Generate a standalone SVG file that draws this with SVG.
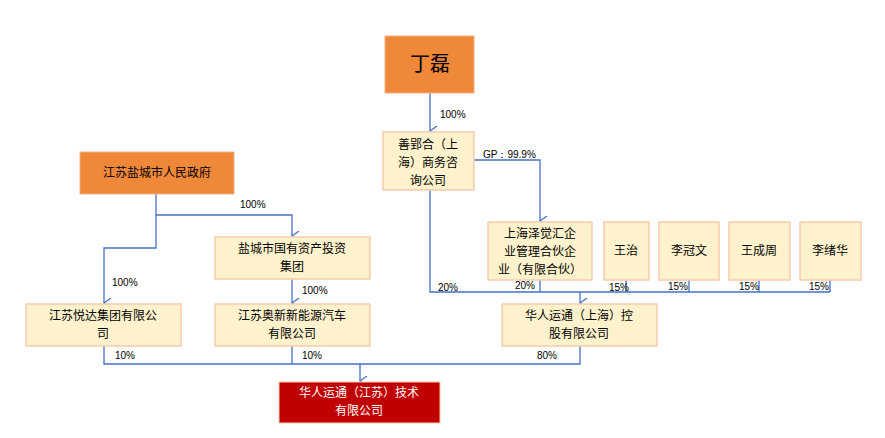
<svg xmlns="http://www.w3.org/2000/svg" width="885" height="438" viewBox="0 0 885 438">
<style>
text{font-family:"Noto Sans CJK SC","Liberation Sans",sans-serif;text-anchor:middle;fill:#000}
.o{fill:#F0883A;stroke:#F4B183;stroke-width:1}
.y{fill:#FFF2CC;stroke:#F8CBAD;stroke-width:1.5}
.r{fill:#C00000;stroke:#F8CBAD}
.t{font-size:12px}
.l{font-size:10px;font-family:"Liberation Sans",sans-serif;text-anchor:start}
.c path{fill:none;stroke:#4472C4;stroke-width:1.3}
</style>
<defs><marker id="a" viewBox="0 0 10 10" refX="5" refY="9" markerWidth="10" markerHeight="10" orient="auto-start-reverse" markerUnits="userSpaceOnUse"><path d="M0,2 L5,9 L10,2" fill="none" stroke="#4472C4" stroke-width="1.3"/></marker></defs>
<rect width="885" height="438" fill="#fff"/>
<g class="c">
<path d="M430,93 V131" marker-end="url(#a)"/>
<path d="M474,160 H540 V221" marker-end="url(#a)"/>
<path d="M430,190 V292 H830 M540,280 V292 M626,280 V292 M689,280 V292 M759,280 V292 M830,280 V292"/>
<path d="M580,292 V303" marker-end="url(#a)"/>
<path d="M156,194 V215 H292 V236" marker-end="url(#a)"/>
<path d="M156,215 V248 H104 V303" marker-end="url(#a)"/>
<path d="M292,279 V303" marker-end="url(#a)"/>
<path d="M104,346 V364 H580 V346 M292,346 V364"/>
<path d="M360,364 V381" marker-end="url(#a)"/>
</g>
<g class="l-group">
<text class="l" x="440" y="118">100%</text>
<text class="l" x="483" y="158">GP：99.9%</text>
<text class="l" x="438" y="291">20%</text>
<text class="l" x="515" y="289">20%</text>
<text class="l" x="609" y="291">15%</text>
<text class="l" x="668" y="290">15%</text>
<text class="l" x="739" y="290">15%</text>
<text class="l" x="809" y="290">15%</text>
<text class="l" x="240" y="208">100%</text>
<text class="l" x="112" y="286">100%</text>
<text class="l" x="302" y="294">100%</text>
<text class="l" x="115" y="359">10%</text>
<text class="l" x="302" y="359">10%</text>
<text class="l" x="537" y="359">80%</text>
</g>
<g id="dinglei"><rect class="o" x="385" y="36" width="89" height="57"/><text x="430" y="71" font-size="20">丁磊</text></g>
<g id="shanying"><rect class="y" x="383" y="132" width="91" height="58"/><text class="t" x="428" y="149">善郢合（上</text><text class="t" x="428" y="167">海）商务咨</text><text class="t" x="428" y="185">询公司</text></g>
<g id="yancheng"><rect class="o" x="80" y="152" width="154" height="42"/><text class="t" x="157" y="177">江苏盐城市人民政府</text></g>
<g id="zejue"><rect class="y" x="488" y="222" width="104" height="58"/><text class="t" x="540" y="238">上海泽觉汇企</text><text class="t" x="540" y="256">业管理合伙企</text><text class="t" x="540" y="274">业（有限合伙）</text></g>
<g id="wangzhi"><rect class="y" x="604" y="222" width="45" height="58"/><text class="t" x="626" y="255">王治</text></g>
<g id="liguanwen"><rect class="y" x="659" y="222" width="60" height="58"/><text class="t" x="689" y="255">李冠文</text></g>
<g id="wangchengzhou"><rect class="y" x="729" y="222" width="61" height="58"/><text class="t" x="759" y="255">王成周</text></g>
<g id="lixuhua"><rect class="y" x="800" y="222" width="61" height="58"/><text class="t" x="830" y="255">李绪华</text></g>
<g id="guoyou"><rect class="y" x="215" y="237" width="155" height="42"/><text class="t" x="292" y="253">盐城市国有资产投资</text><text class="t" x="292" y="271">集团</text></g>
<g id="yueda"><rect class="y" x="26" y="304" width="155" height="42"/><text class="t" x="103" y="320">江苏悦达集团有限公</text><text class="t" x="103" y="338">司</text></g>
<g id="aoxin"><rect class="y" x="215" y="304" width="155" height="42"/><text class="t" x="292" y="320">江苏奥新新能源汽车</text><text class="t" x="292" y="338">有限公司</text></g>
<g id="hrsh"><rect class="y" x="502" y="304" width="155" height="42"/><text class="t" x="579" y="320">华人运通（上海）控</text><text class="t" x="579" y="338">股有限公司</text></g>
<g id="hrjs"><rect class="r" x="279" y="382" width="161" height="41"/><text class="t" x="359" y="397" style="fill:#fff">华人运通（江苏）技术</text><text class="t" x="359" y="415" style="fill:#fff">有限公司</text></g>
</svg>
